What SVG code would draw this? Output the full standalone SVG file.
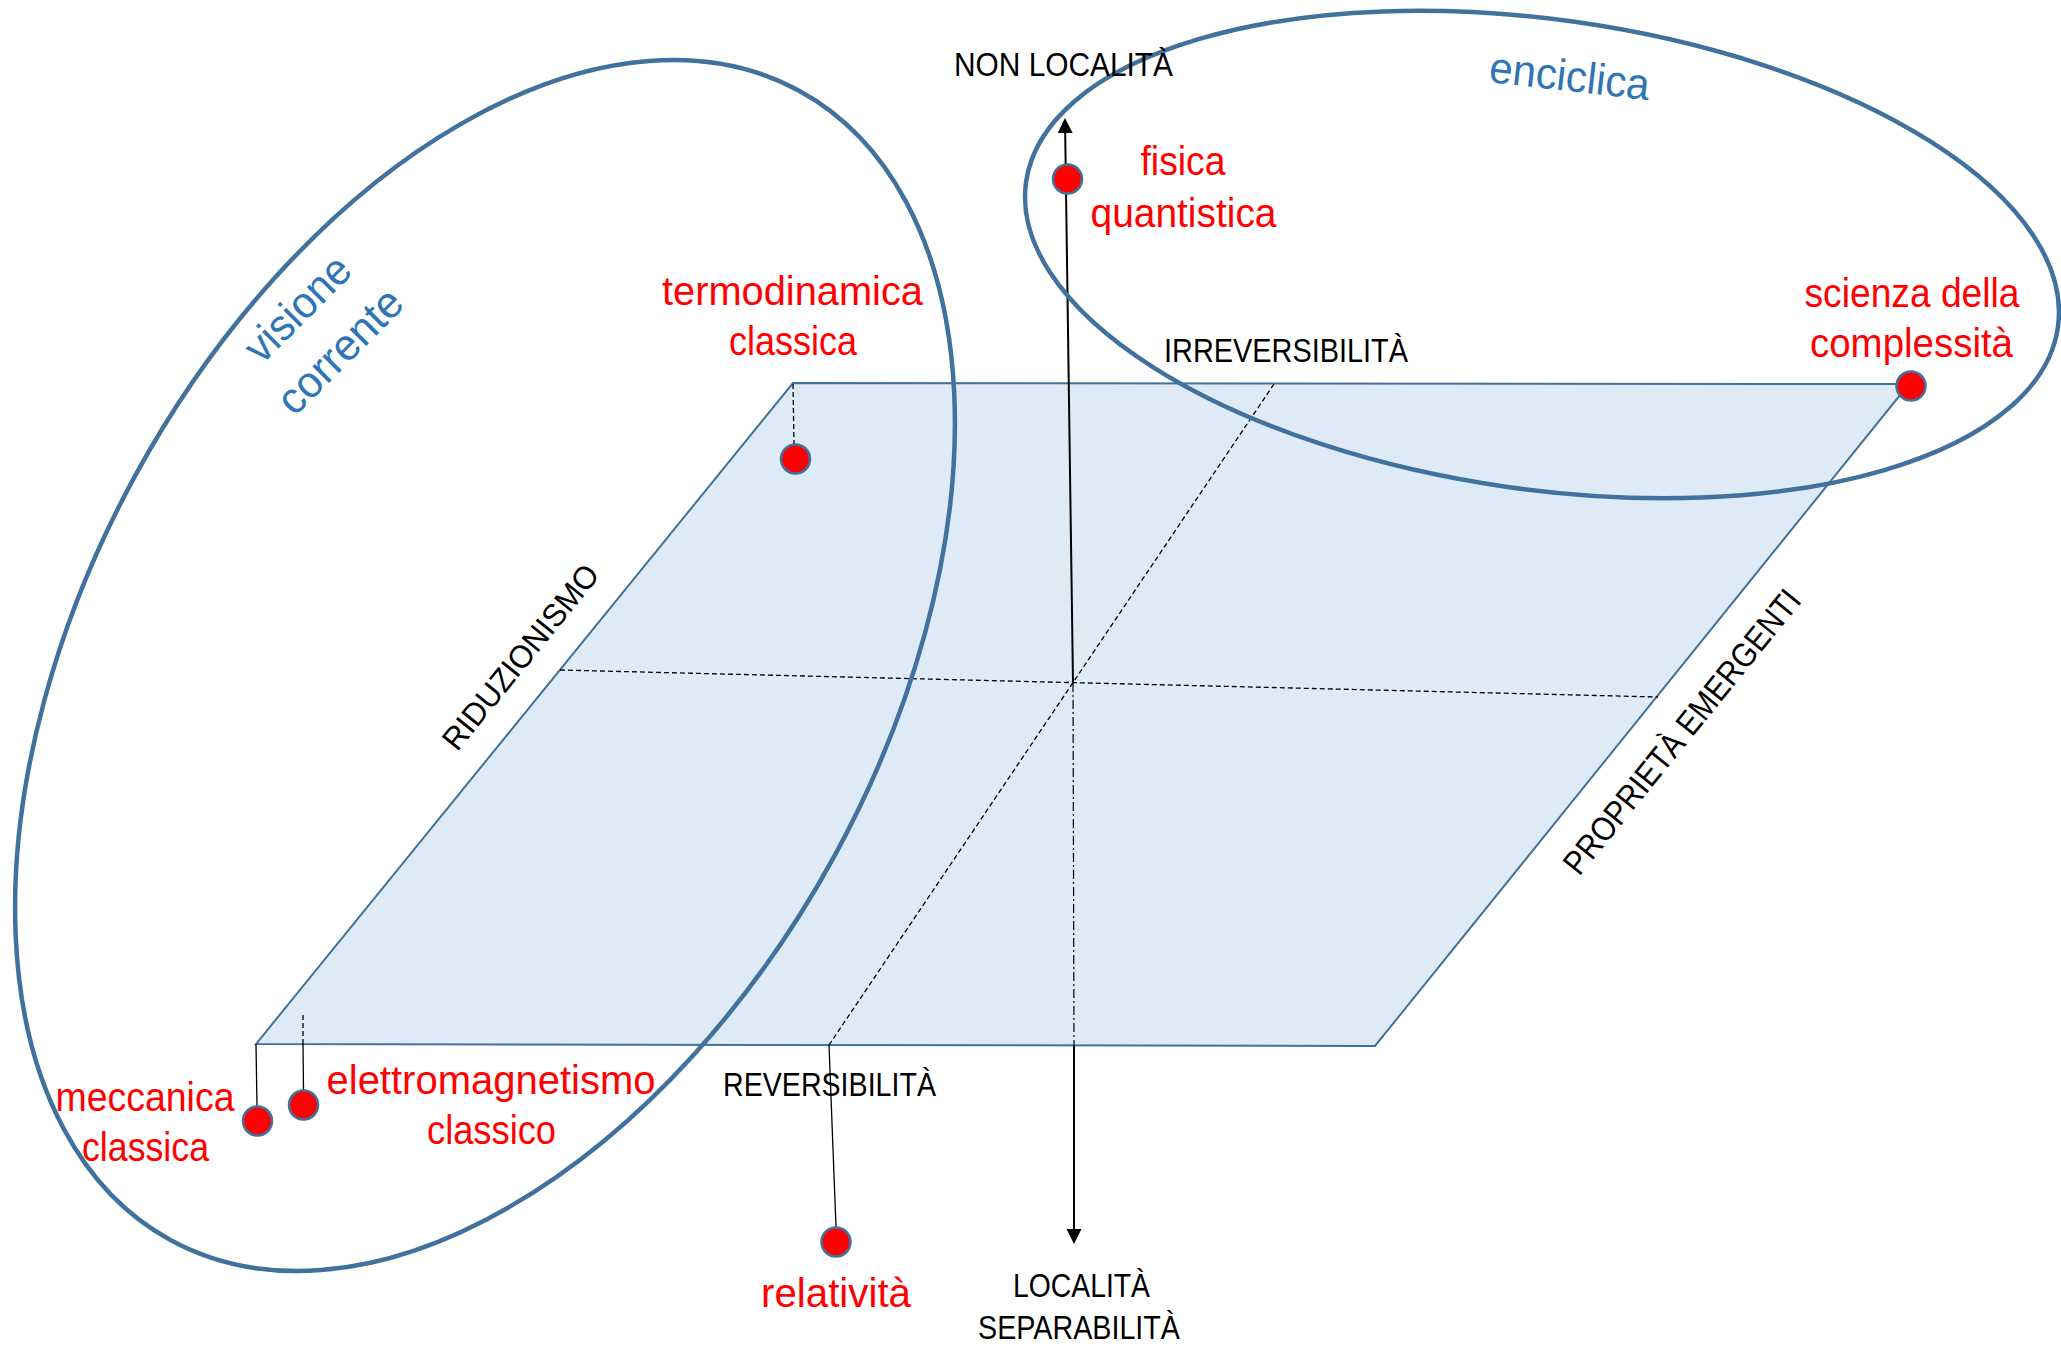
<svg xmlns="http://www.w3.org/2000/svg" width="2061" height="1346" viewBox="0 0 2061 1346">
<style>
text{font-family:"Liberation Sans",Arial,sans-serif;text-anchor:middle}
.blk{font-size:34px;fill:#000}
.red{font-size:40px;fill:#FF0000}
.blu{font-size:44px;fill:#2E75B6}
.ell{fill:none;stroke:#41719C;stroke-width:4.5}
.dot{fill:#FF0000;stroke:#41719C;stroke-width:2.5}
.dash{fill:none;stroke:#000;stroke-width:1.3;stroke-dasharray:5 3}
.thin{fill:none;stroke:#000;stroke-width:1.3}
.axis{fill:none;stroke:#000;stroke-width:2}
</style>
<defs>
<marker id="arr" markerUnits="userSpaceOnUse" markerWidth="16" markerHeight="16" viewBox="0 -8 16 16" refX="0" refY="0" orient="auto">
<path d="M0,-7.5 L15,0 L0,7.5 z" fill="#000"/>
</marker>
</defs>
<rect width="2061" height="1346" fill="#fff"/>
<g id="plane">
<polygon points="793,383 1909,384 1375,1046 256,1044" fill="#DEEBF7" stroke="#41719C" stroke-width="2"/>
</g>
<g id="connectors">
<line class="dash" x1="560" y1="670" x2="1658" y2="697"/>
<line class="dash" x1="1274" y1="384" x2="829" y2="1045"/>
<line class="axis" x1="1073" y1="683" x2="1065.2" y2="133" marker-end="url(#arr)"/>
<line fill="none" stroke="#000" stroke-width="1.2" stroke-dasharray="9 3 2 3" x1="1073" y1="683" x2="1074" y2="1046"/>
<line class="axis" x1="1074" y1="1046" x2="1074" y2="1229" marker-end="url(#arr)"/>
<line class="dash" x1="793" y1="384" x2="794" y2="444"/>
<line class="thin" x1="256" y1="1044" x2="257" y2="1106"/>
<line class="dash" x1="303" y1="1015" x2="303" y2="1044"/>
<line class="thin" x1="303" y1="1044" x2="303.5" y2="1090"/>
<line class="thin" x1="829" y1="1045" x2="836" y2="1227"/>
</g>
<g id="visione-corrente">
<ellipse class="ell" cx="485" cy="665.5" rx="398" ry="655" transform="rotate(28.7 485 665.5)"/>
<g transform="translate(308,319) rotate(-45)">
<text class="blu" x="0" y="0" textLength="131" lengthAdjust="spacingAndGlyphs">visione</text>
<text class="blu" x="0" y="60" textLength="158" lengthAdjust="spacingAndGlyphs">corrente</text>
</g>
</g>
<g id="enciclica">
<ellipse class="ell" cx="1542" cy="254.5" rx="521" ry="235" transform="rotate(8 1542 254.5)"/>
<text class="blu" transform="translate(1568,91) rotate(6.5)" x="0" y="0" textLength="161" lengthAdjust="spacingAndGlyphs">enciclica</text>
</g>
<g id="axis-labels">
<text class="blk" x="1063.5" y="76" textLength="219" lengthAdjust="spacingAndGlyphs">NON LOCALITÀ</text>
<text class="blk" x="1286" y="361.5" textLength="244" lengthAdjust="spacingAndGlyphs">IRREVERSIBILITÀ</text>
<text class="blk" x="829.5" y="1096" textLength="213" lengthAdjust="spacingAndGlyphs">REVERSIBILITÀ</text>
<text class="blk" x="1081.5" y="1296.5" textLength="137" lengthAdjust="spacingAndGlyphs">LOCALITÀ</text>
<text class="blk" x="1079" y="1339" textLength="202" lengthAdjust="spacingAndGlyphs">SEPARABILITÀ</text>
<text class="blk" style="font-size:32px" transform="translate(529,664) rotate(-51)" x="0" y="0" textLength="228" lengthAdjust="spacingAndGlyphs">RIDUZIONISMO</text>
<text class="blk" transform="translate(1691,739) rotate(-51)" x="0" y="0" textLength="355" lengthAdjust="spacingAndGlyphs">PROPRIETÀ EMERGENTI</text>
</g>
<g id="termodinamica">
<circle class="dot" cx="795.5" cy="459" r="14.5"/>
<text class="red" x="792.5" y="305" textLength="261" lengthAdjust="spacingAndGlyphs">termodinamica</text>
<text class="red" x="793" y="355" textLength="128" lengthAdjust="spacingAndGlyphs">classica</text>
</g>
<g id="fisica-quantistica">
<circle class="dot" cx="1067.5" cy="179" r="14.5"/>
<text class="red" x="1183" y="175" textLength="85" lengthAdjust="spacingAndGlyphs">fisica</text>
<text class="red" x="1183.5" y="227" textLength="186" lengthAdjust="spacingAndGlyphs">quantistica</text>
</g>
<g id="scienza-complessita">
<circle class="dot" cx="1911" cy="386" r="14.5"/>
<text class="red" x="1912" y="307" textLength="215" lengthAdjust="spacingAndGlyphs">scienza della</text>
<text class="red" x="1911.5" y="357" textLength="203" lengthAdjust="spacingAndGlyphs">complessità</text>
</g>
<g id="meccanica-classica">
<circle class="dot" cx="257.5" cy="1121" r="14.5"/>
<text class="red" x="145" y="1110.5" textLength="179" lengthAdjust="spacingAndGlyphs">meccanica</text>
<text class="red" x="145.5" y="1160.5" textLength="127" lengthAdjust="spacingAndGlyphs">classica</text>
</g>
<g id="elettromagnetismo-classico">
<circle class="dot" cx="303.5" cy="1105" r="14.5"/>
<text class="red" x="491" y="1094" textLength="329" lengthAdjust="spacingAndGlyphs">elettromagnetismo</text>
<text class="red" x="491.5" y="1144" textLength="129" lengthAdjust="spacingAndGlyphs">classico</text>
</g>
<g id="relativita">
<circle class="dot" cx="836" cy="1242" r="14.5"/>
<text class="red" x="836" y="1307" textLength="150" lengthAdjust="spacingAndGlyphs">relatività</text>
</g>
</svg>
